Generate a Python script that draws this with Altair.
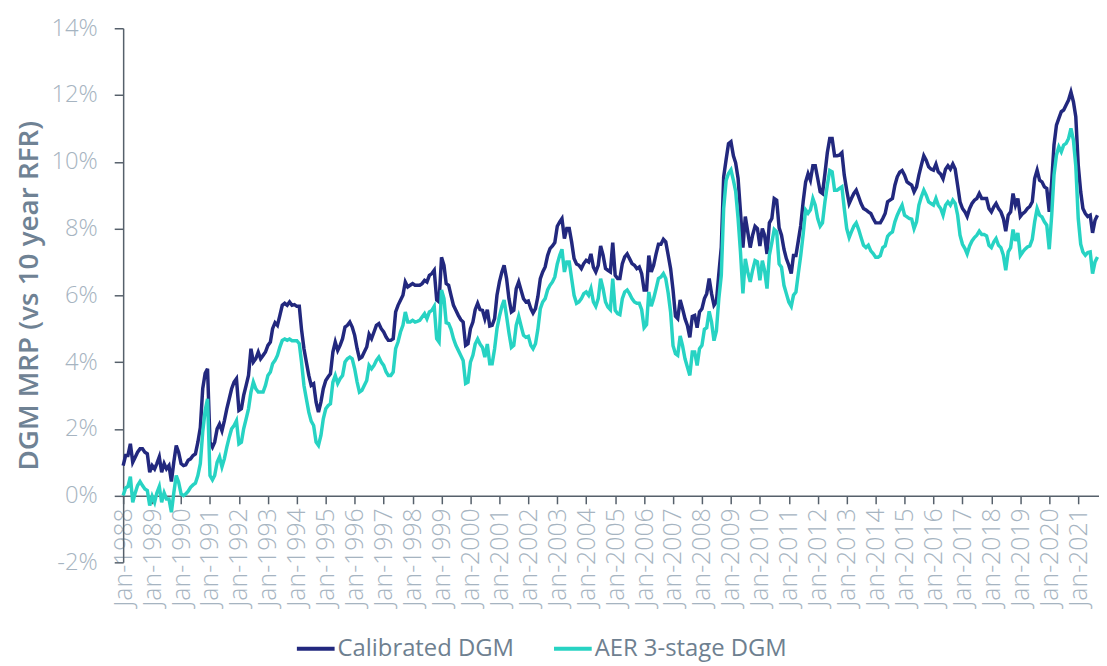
import altair as alt
import pandas as pd

# month offsets from Jan-1988
months = [
    0, 1, 2, 3, 4, 5, 6, 7, 8, 9, 10, 11, 12, 13, 14, 15, 16, 17, 18, 19,
    20, 21, 22, 23, 24, 25, 26, 27, 28, 29, 30, 31, 32, 33, 34, 35, 36, 37, 38, 39,
    40, 41, 42, 43, 44, 45, 46, 47, 48, 49, 50, 51, 52, 53, 54, 55, 56, 57, 58, 59,
    60, 61, 62, 63, 64, 65, 66, 67, 68, 69, 70, 71, 72, 73, 74, 75, 76, 77, 78, 79,
    80, 81, 82, 83, 84, 85, 86, 87, 88, 89, 90, 91, 92, 93, 94, 95, 96, 97, 98, 99,
    100, 101, 102, 103, 104, 105, 106, 107, 108, 109, 110, 111, 112, 113, 114, 115, 116, 117, 118, 119,
    120, 121, 122, 123, 124, 125, 126, 127, 128, 129, 130, 131, 132, 133, 134, 135, 136, 137, 138, 139,
    140, 141, 142, 143, 144, 145, 146, 147, 148, 149, 150, 151, 152, 153, 154, 155, 156, 157, 158, 159,
    160, 161, 162, 163, 164, 165, 166, 167, 168, 169, 170, 171, 172, 173, 174, 175, 176, 177, 178, 179,
    180, 181, 182, 183, 184, 185, 186, 187, 188, 189, 190, 191, 192, 193, 194, 195, 196, 197, 198, 199,
    200, 201, 202, 203, 204, 205, 206, 207, 208, 209, 210, 211, 212, 213, 214, 215, 216, 217, 218, 219,
    220, 221, 222, 223, 224, 225, 226, 227, 228, 229, 230, 231, 232, 233, 234, 235, 236, 237, 238, 239,
    240, 241, 242, 243, 244, 245, 246, 247, 248, 249, 250, 251, 252, 253, 254, 255, 256, 257, 258, 259,
    260, 261, 262, 263, 264, 265, 266, 267, 268, 269, 270, 271, 272, 273, 274, 275, 276, 277, 278, 279,
    280, 281, 282, 283, 284, 285, 286, 287, 288, 289, 290, 291, 292, 293, 294, 295, 296, 297, 298, 299,
    300, 301, 302, 303, 304, 305, 306, 307, 308, 309, 310, 311, 312, 313, 314, 315, 316, 317, 318, 319,
    320, 321, 322, 323, 324, 325, 326, 327, 328, 329, 330, 331, 332, 333, 334, 335, 336, 337, 338, 339,
    340, 341, 342, 343, 344, 345, 346, 347, 348, 349, 350, 351, 352, 353, 354, 355, 356, 357, 358, 359,
    360, 361, 362, 363, 364, 365, 366, 367, 368, 369, 370, 371, 372, 373, 374, 375, 376, 377, 378, 379,
    380, 381, 382, 383, 384, 385, 386, 387, 388, 389, 390, 391, 392, 393, 394, 395, 396, 397, 398, 399,
    400, 401, 402, 403, 404,
]

calibrated = [
    0.9, 1.2, 1.2, 1.55, 1.0, 1.15, 1.3, 1.4, 1.4, 1.3, 1.25, 0.7, 0.9, 0.8, 0.96, 1.16, 0.7, 0.96, 0.8, 0.9,
    0.42, 1.0, 1.5, 1.3, 0.96, 0.9, 0.92, 1.06, 1.1, 1.2, 1.25, 1.6, 2.04, 3.2, 3.66, 3.8, 1.6, 1.45, 1.6, 2.0,
    2.14, 1.94, 2.24, 2.6, 2.9, 3.2, 3.4, 3.5, 2.55, 2.6, 3.0, 3.3, 3.6, 4.4, 4.0, 4.1, 4.3, 4.1, 4.2, 4.3,
    4.5, 4.6, 5.0, 5.18, 5.1, 5.4, 5.7, 5.76, 5.7, 5.8, 5.7, 5.72, 5.67, 5.67, 4.98, 4.4, 4.0, 3.6, 3.3, 3.35,
    2.8, 2.5, 2.8, 3.2, 3.45, 3.56, 3.65, 4.3, 4.6, 4.35, 4.5, 4.7, 5.05, 5.1, 5.2, 5.05, 4.8, 4.4, 4.1, 4.15,
    4.3, 4.45, 4.83, 4.7, 4.9, 5.1, 5.15, 5.0, 4.9, 4.75, 4.65, 4.65, 4.7, 5.5, 5.7, 5.85, 6.0, 6.4, 6.25, 6.3,
    6.35, 6.3, 6.3, 6.3, 6.35, 6.45, 6.4, 6.6, 6.65, 6.75, 5.86, 5.8, 7.14, 6.9, 6.35, 6.3, 6.0, 5.7, 5.55, 5.4,
    5.27, 5.2, 4.5, 4.55, 5.0, 5.2, 5.57, 5.76, 5.57, 5.55, 5.3, 5.57, 5.08, 5.1, 5.3, 6.0, 6.4, 6.7, 6.9, 6.5,
    5.9, 5.5, 5.55, 6.2, 6.4, 6.15, 5.9, 5.8, 5.83, 5.6, 5.47, 5.6, 5.96, 6.5, 6.7, 6.85, 7.19, 7.4, 7.48, 7.58,
    8.07, 8.2, 8.3, 7.7, 8.0, 8.0, 7.6, 7.1, 6.94, 6.9, 6.8, 6.95, 7.05, 7.0, 7.24, 6.84, 6.7, 6.9, 7.48, 7.2,
    6.8, 6.75, 6.7, 7.58, 6.6, 6.5, 6.5, 6.95, 7.15, 7.24, 7.1, 6.95, 6.9, 6.8, 6.85, 6.65, 6.16, 6.16, 7.19, 6.7,
    6.9, 7.24, 7.53, 7.53, 7.68, 7.6, 7.2, 6.8, 6.16, 5.37, 5.3, 5.86, 5.6, 5.3, 5.1, 4.74, 5.37, 5.4, 5.03, 5.5,
    5.6, 5.9, 6.05, 6.5, 6.05, 5.7, 5.8, 6.65, 7.44, 9.55, 10.07, 10.54, 10.6, 10.18, 9.97, 9.5, 8.5, 7.43, 8.36, 7.9,
    7.43, 7.8, 8.07, 8.0, 7.48, 8.0, 7.8, 7.24, 8.17, 8.3, 8.9, 8.85, 8.02, 7.8, 7.38, 7.1, 6.9, 6.65, 7.19, 7.19,
    7.63, 8.1, 8.8, 9.39, 9.64, 9.45, 9.88, 9.88, 9.5, 9.1, 9.05, 9.64, 10.27, 10.7, 10.7, 10.18, 10.18, 10.2, 10.27, 9.6,
    9.15, 8.75, 8.9, 9.05, 9.15, 8.95, 8.75, 8.6, 8.56, 8.5, 8.45, 8.3, 8.17, 8.17, 8.17, 8.3, 8.45, 8.8, 8.85, 8.9,
    9.3, 9.55, 9.69, 9.74, 9.6, 9.4, 9.35, 9.3, 9.1, 9.25, 9.6, 9.9, 10.18, 10.05, 9.85, 9.78, 9.75, 9.93, 9.7, 9.63,
    9.49, 9.78, 9.88, 9.78, 9.93, 9.78, 9.29, 8.8, 8.6, 8.5, 8.36, 8.6, 8.75, 8.85, 8.9, 9.05, 8.9, 8.9, 8.9, 8.6,
    8.5, 8.65, 8.75, 8.6, 8.5, 8.3, 7.92, 8.4, 8.5, 9.05, 8.7, 8.9, 8.36, 8.45, 8.5, 8.6, 8.66, 8.8, 9.5, 9.75,
    9.45, 9.4, 9.25, 9.2, 8.5, 9.4, 10.5, 11.1, 11.3, 11.5, 11.55, 11.7, 11.85, 12.09, 11.8, 11.35, 9.9, 9.1, 8.6, 8.45,
    8.36, 8.4, 7.87, 8.25, 8.4,
]

aer = [
    0.0, 0.23, 0.27, 0.57, -0.2, 0.08, 0.3, 0.42, 0.3, 0.2, 0.15, -0.3, -0.02, -0.2, 0.08, 0.27, -0.2, 0.08, -0.1, -0.1,
    -0.5, 0.08, 0.6, 0.4, 0.05, 0.0, 0.05, 0.13, 0.25, 0.32, 0.37, 0.6, 0.96, 1.9, 2.55, 2.9, 0.6, 0.47, 0.6, 1.0,
    1.16, 0.86, 1.1, 1.45, 1.75, 2.0, 2.1, 2.24, 1.55, 1.6, 2.0, 2.3, 2.6, 3.1, 3.4, 3.2, 3.1, 3.1, 3.1, 3.3,
    3.6, 3.7, 3.95, 4.05, 4.2, 4.45, 4.65, 4.69, 4.65, 4.69, 4.64, 4.64, 4.64, 4.55, 4.0, 3.3, 2.9, 2.5, 2.23, 2.1,
    1.6, 1.5, 1.8, 2.3, 2.6, 2.7, 2.75, 3.4, 3.6, 3.36, 3.5, 3.6, 4.0, 4.1, 4.15, 4.1, 3.8, 3.4, 3.1, 3.15,
    3.3, 3.45, 3.9, 3.8, 3.9, 4.05, 4.15, 4.0, 3.9, 3.7, 3.6, 3.6, 3.7, 4.4, 4.6, 4.9, 5.1, 5.5, 5.2, 5.2,
    5.25, 5.2, 5.22, 5.25, 5.35, 5.45, 5.3, 5.5, 5.55, 5.67, 4.7, 4.6, 6.16, 5.9, 5.18, 5.15, 4.98, 4.7, 4.5, 4.35,
    4.2, 4.05, 3.36, 3.4, 4.0, 4.2, 4.54, 4.69, 4.54, 4.44, 4.15, 4.54, 3.95, 3.95, 4.4, 5.0, 5.37, 5.67, 5.86, 5.37,
    4.88, 4.44, 4.5, 5.1, 5.37, 5.08, 4.8, 4.74, 4.77, 4.5, 4.4, 4.55, 4.98, 5.6, 5.8, 5.9, 6.16, 6.3, 6.4, 6.55,
    6.94, 7.2, 7.38, 6.7, 7.0, 7.0, 6.5, 6.0, 5.76, 5.8, 5.9, 6.05, 6.1, 6.0, 6.2, 5.8, 5.67, 5.9, 6.5, 6.2,
    5.8, 5.65, 5.57, 6.5, 5.55, 5.45, 5.42, 5.9, 6.1, 6.16, 6.05, 5.9, 5.8, 5.76, 5.76, 5.57, 5.03, 5.12, 6.1, 5.67,
    5.9, 6.2, 6.5, 6.55, 6.65, 6.5, 6.06, 5.5, 4.49, 4.25, 4.2, 4.78, 4.49, 4.1, 3.85, 3.6, 4.3, 4.3, 3.9, 4.4,
    4.5, 4.98, 5.03, 5.52, 5.2, 4.64, 4.93, 5.9, 6.6, 8.6, 9.44, 9.65, 9.76, 9.44, 9.12, 8.3, 7.3, 6.06, 7.09, 6.7,
    6.4, 6.75, 7.04, 7.0, 6.45, 7.04, 6.75, 6.2, 7.2, 7.58, 7.97, 7.9, 6.94, 6.84, 6.3, 6.05, 5.8, 5.67, 6.0, 6.1,
    6.65, 7.2, 7.82, 8.56, 8.46, 8.56, 8.9, 8.7, 8.3, 8.07, 8.17, 8.8, 9.3, 9.74, 9.7, 9.15, 9.15, 9.2, 9.25, 8.6,
    8.0, 7.73, 7.9, 8.07, 8.17, 7.97, 7.73, 7.5, 7.43, 7.5, 7.33, 7.25, 7.14, 7.14, 7.19, 7.43, 7.48, 7.77, 7.85, 7.9,
    8.2, 8.4, 8.56, 8.7, 8.4, 8.35, 8.3, 8.28, 8.0, 8.2, 8.7, 8.95, 9.15, 9.0, 8.8, 8.75, 8.7, 8.9, 8.7, 8.6,
    8.4, 8.7, 8.8, 8.7, 8.85, 8.75, 8.4, 7.8, 7.53, 7.4, 7.24, 7.48, 7.63, 7.73, 7.8, 7.92, 7.82, 7.82, 7.78, 7.5,
    7.43, 7.6, 7.7, 7.5, 7.43, 7.2, 6.75, 7.3, 7.43, 7.97, 7.63, 7.87, 7.19, 7.3, 7.38, 7.45, 7.48, 7.68, 8.2, 8.6,
    8.4, 8.35, 8.2, 8.1, 7.38, 8.4, 9.6, 10.2, 10.45, 10.3, 10.5, 10.55, 10.7, 11.0, 10.65, 9.88, 8.3, 7.53, 7.3, 7.2,
    7.28, 7.3, 6.65, 7.0, 7.15,
]

series_names = ["Calibrated DGM", "AER 3-stage DGM"]
series_colors = ["#22287e", "#27d3c3"]
y_ticks = [-2, 0, 2, 4, 6, 8, 10, 12, 14]

dates = [f"{1988 + m // 12}-{m % 12 + 1:02d}-01" for m in months]
df = pd.concat([
    pd.DataFrame({"date": dates, "value": calibrated, "series": series_names[0]}),
    pd.DataFrame({"date": dates, "value": aer, "series": series_names[1]}),
])

FONT = "Open Sans"
label_col = "#a6b4c1"
axis_col = "#56606b"

x_enc = alt.X(
    "date:T",
    scale=alt.Scale(domain=["1988-01-01", "2021-09-20"]),
    axis=alt.Axis(
        title=None, format="%b-%Y", labelAngle=-90, labelOverlap=False, labelFlush=False,
        tickCount={"interval": "year", "step": 1}, offset=-67, grid=False,
        labelFont=FONT, labelFontSize=25, labelFontWeight=300, labelColor=label_col, labelPadding=4,
        domainColor=axis_col, domainWidth=1.5, tickColor=axis_col, tickSize=8, tickWidth=1.5,
    ),
)
y_enc = alt.Y(
    "value:Q",
    scale=alt.Scale(domain=[-2, 14], nice=False, zero=False),
    axis=alt.Axis(
        title="DGM MRP (vs 10 year RFR)", values=y_ticks, labelExpr="datum.value + '%'",
        grid=False, labelFont=FONT, labelFontSize=24, labelFontWeight=300, labelColor=label_col,
        labelPadding=17, domainColor=axis_col, domainWidth=1.5, tickColor=axis_col, tickSize=9,
        tickWidth=1.5, titleFont=FONT, titleFontSize=28, titleFontWeight=600, titleColor="#6f8294",
        titlePadding=8,
    ),
)
color_enc = alt.Color(
    "series:N",
    scale=alt.Scale(domain=series_names, range=series_colors),
    legend=alt.Legend(
        title=None, orient="none", direction="horizontal", legendX=173, legendY=604,
        symbolType="stroke", symbolStrokeWidth=4, symbolSize=1444, labelFont=FONT,
        labelFontSize=24, labelColor="#6e8090", labelLimit=400, columnPadding=32, labelOffset=1,
    ),
)

base = alt.Chart(df).mark_line(strokeWidth=3.5).encode(x=x_enc, y=y_enc, color=color_enc)
navy = base.transform_filter(alt.datum.series == series_names[0])
teal = base.transform_filter(alt.datum.series == series_names[1])

chart = alt.layer(navy, teal).properties(
    width=983, height=538,
    autosize=alt.AutoSizeParams(type="none"),
    padding={"left": 116, "top": 18, "right": 0, "bottom": 102},
).configure_view(stroke=None)

chart.save("out.html", embed_options={"renderer": "svg", "actions": False})
